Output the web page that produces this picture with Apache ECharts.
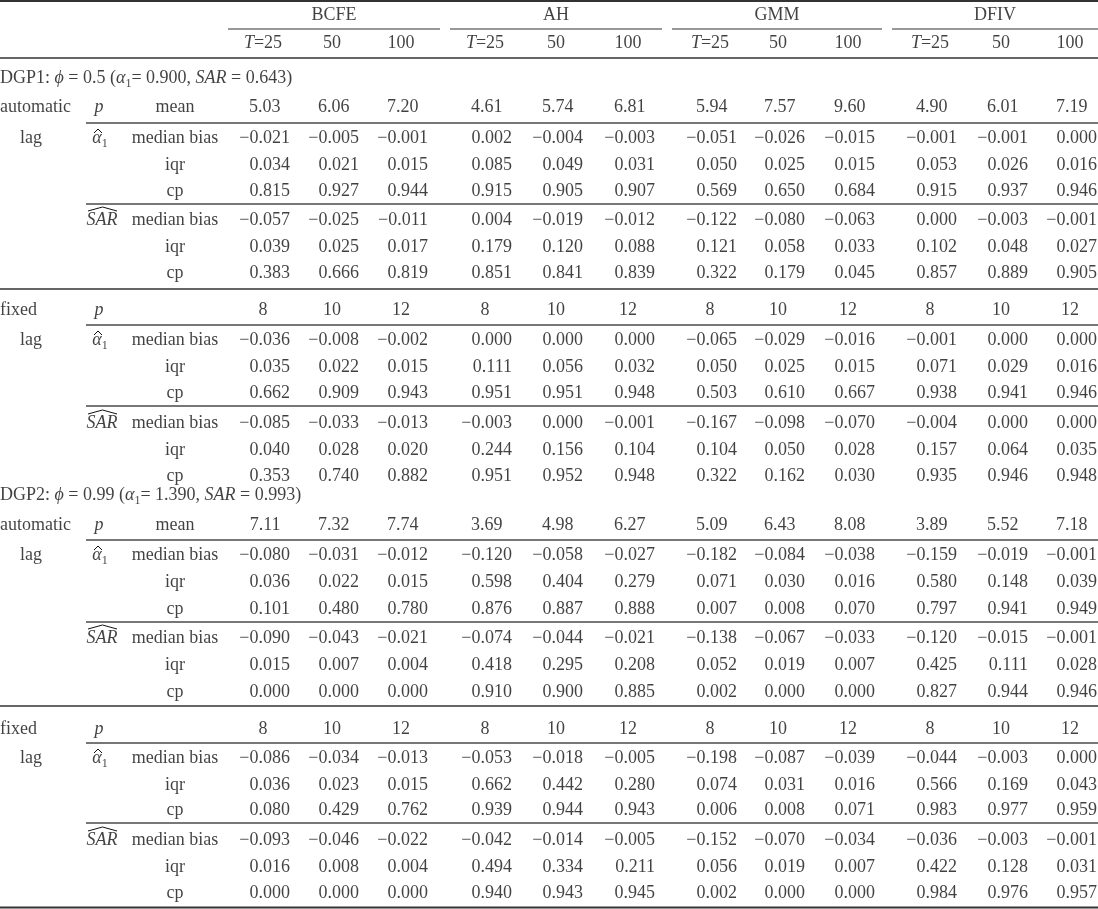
<!DOCTYPE html>
<html style="height:100%;width:100%;">

<head>
  <meta charset="utf-8">
  <title>Table: BCFE / AH / GMM / DFIV</title>
  <script src="https://cdn.jsdelivr.net/npm/echarts@6/dist/echarts.min.js"></script>
</head>

<body style="margin:0px;height:100%;width:100%;background:#fff;">
  <div id="main" style="width:1098px;height:909px"></div>
  <script type="text/javascript" charset="utf-8">
    // header labels
    var methods = ['BCFE', 'AH', 'GMM', 'DFIV'];
    var sampleSizes = ['25', '50', '100'];
    var fixedLags = [8, 10, 12];
    var statNames = ['median bias', 'iqr', 'cp'];

    // DGP1, automatic lag
    var dgp1AutoMean = [5.03, 6.06, 7.20, 4.61, 5.74, 6.81, 5.94, 7.57, 9.60, 4.90, 6.01, 7.19];
    var dgp1AutoAlpha = [
      [-0.021, -0.005, -0.001, 0.002, -0.004, -0.003, -0.051, -0.026, -0.015, -0.001, -0.001, 0.000],
      [0.034, 0.021, 0.015, 0.085, 0.049, 0.031, 0.050, 0.025, 0.015, 0.053, 0.026, 0.016],
      [0.815, 0.927, 0.944, 0.915, 0.905, 0.907, 0.569, 0.650, 0.684, 0.915, 0.937, 0.946]
    ];
    var dgp1AutoSar = [
      [-0.057, -0.025, -0.011, 0.004, -0.019, -0.012, -0.122, -0.080, -0.063, 0.000, -0.003, -0.001],
      [0.039, 0.025, 0.017, 0.179, 0.120, 0.088, 0.121, 0.058, 0.033, 0.102, 0.048, 0.027],
      [0.383, 0.666, 0.819, 0.851, 0.841, 0.839, 0.322, 0.179, 0.045, 0.857, 0.889, 0.905]
    ];
    // DGP1, fixed lag
    var dgp1FixedAlpha = [
      [-0.036, -0.008, -0.002, 0.000, 0.000, 0.000, -0.065, -0.029, -0.016, -0.001, 0.000, 0.000],
      [0.035, 0.022, 0.015, 0.111, 0.056, 0.032, 0.050, 0.025, 0.015, 0.071, 0.029, 0.016],
      [0.662, 0.909, 0.943, 0.951, 0.951, 0.948, 0.503, 0.610, 0.667, 0.938, 0.941, 0.946]
    ];
    var dgp1FixedSar = [
      [-0.085, -0.033, -0.013, -0.003, 0.000, -0.001, -0.167, -0.098, -0.070, -0.004, 0.000, 0.000],
      [0.040, 0.028, 0.020, 0.244, 0.156, 0.104, 0.104, 0.050, 0.028, 0.157, 0.064, 0.035],
      [0.353, 0.740, 0.882, 0.951, 0.952, 0.948, 0.322, 0.162, 0.030, 0.935, 0.946, 0.948]
    ];
    // DGP2, automatic lag
    var dgp2AutoMean = [7.11, 7.32, 7.74, 3.69, 4.98, 6.27, 5.09, 6.43, 8.08, 3.89, 5.52, 7.18];
    var dgp2AutoAlpha = [
      [-0.080, -0.031, -0.012, -0.120, -0.058, -0.027, -0.182, -0.084, -0.038, -0.159, -0.019, -0.001],
      [0.036, 0.022, 0.015, 0.598, 0.404, 0.279, 0.071, 0.030, 0.016, 0.580, 0.148, 0.039],
      [0.101, 0.480, 0.780, 0.876, 0.887, 0.888, 0.007, 0.008, 0.070, 0.797, 0.941, 0.949]
    ];
    var dgp2AutoSar = [
      [-0.090, -0.043, -0.021, -0.074, -0.044, -0.021, -0.138, -0.067, -0.033, -0.120, -0.015, -0.001],
      [0.015, 0.007, 0.004, 0.418, 0.295, 0.208, 0.052, 0.019, 0.007, 0.425, 0.111, 0.028],
      [0.000, 0.000, 0.000, 0.910, 0.900, 0.885, 0.002, 0.000, 0.000, 0.827, 0.944, 0.946]
    ];
    // DGP2, fixed lag
    var dgp2FixedAlpha = [
      [-0.086, -0.034, -0.013, -0.053, -0.018, -0.005, -0.198, -0.087, -0.039, -0.044, -0.003, 0.000],
      [0.036, 0.023, 0.015, 0.662, 0.442, 0.280, 0.074, 0.031, 0.016, 0.566, 0.169, 0.043],
      [0.080, 0.429, 0.762, 0.939, 0.944, 0.943, 0.006, 0.008, 0.071, 0.983, 0.977, 0.959]
    ];
    var dgp2FixedSar = [
      [-0.093, -0.046, -0.022, -0.042, -0.014, -0.005, -0.152, -0.070, -0.034, -0.036, -0.003, -0.001],
      [0.016, 0.008, 0.004, 0.494, 0.334, 0.211, 0.056, 0.019, 0.007, 0.422, 0.128, 0.031],
      [0.000, 0.000, 0.000, 0.940, 0.943, 0.945, 0.002, 0.000, 0.000, 0.984, 0.976, 0.957]
    ];

    // layout (axis units = pixels); numbers are decimal-aligned, so columns are set by their right edge
    var colRight = [290, 359, 428, 512, 583, 655, 737, 805, 875, 957, 1028, 1097];
    var groupLine = [[228, 440], [450, 662], [672, 882], [892, 1098]];
    var FONT = 'Liberation Serif';
    var INK = '#111';

    var cells = [];
    var rules = [];

    function put(x, y, text, align) {
      cells.push({ name: text, value: [x, y], label: { align: align || 'center' } });
    }
    function fmt(v, d) {
      return v.toFixed(d).replace('-', '\u2212');
    }
    function valueRow(y, vals, d) {
      vals.forEach(function (v, i) {
        if (d === 0) put(colRight[i] - 27, y, fmt(v, 0));
        else put(colRight[i] - (3 - d) * 9.5, y, fmt(v, d), 'right');
      });
    }
    function rule(x1, x2, y, w, c) {
      rules.push({ coords: [[x1, y], [x2, y]], lineStyle: { width: w, color: c } });
    }
    function hat(x1, x2, y, h) {
      rules.push({ coords: [[x1, y], [(x1 + x2) / 2, y - h], [x2, y]], lineStyle: { width: 1, color: INK } });
    }

    // header
    methods.forEach(function (m, g) {
      put((groupLine[g][0] + groupLine[g][1]) / 2, 15, m);
      rule(groupLine[g][0], groupLine[g][1], 29, 1.2, '#333');
      sampleSizes.forEach(function (s, k) {
        put(colRight[g * 3 + k] - 27, 43, k === 0 ? '{i|T}=' + s : s);
      });
    });

    function section(kind, yP, firstVals, dec, ya, alpha, ys, sar) {
      put(0, yP, kind, 'left');
      put(99, yP, '{i|p}');
      if (kind === 'automatic') put(175, yP, 'mean');
      valueRow(yP, firstVals, dec);
      rule(86, 1098, ya[0] - 15, 2, '#777');
      put(31, ya[0], 'lag');
      put(100, ya[0], '{i|\u03b1}{s|1}');
      hat(94, 102, ya[0] - 5, 4);
      put(102, ys[0], '{i|SAR}');
      hat(88, 117, ys[0] - 9, 4);
      statNames.forEach(function (s, k) {
        put(175, ya[k], s);
        valueRow(ya[k], alpha[k], 3);
        put(175, ys[k], s);
        valueRow(ys[k], sar[k], 3);
      });
      rule(86, 1098, ya[2] + 13, 2, '#777');
    }

    var fixedRow = [];
    methods.forEach(function () { fixedRow = fixedRow.concat(fixedLags); });

    put(0, 78, 'DGP1: {i|\u03d5} = 0.5 ({i|\u03b1}{s|1}= 0.900, {i|SAR} = 0.643)', 'left');
    section('automatic', 107, dgp1AutoMean, 2, [138, 165, 191], dgp1AutoAlpha, [220, 247, 273], dgp1AutoSar);
    section('fixed', 310, fixedRow, 0, [340, 367, 393], dgp1FixedAlpha, [423, 450, 476], dgp1FixedSar);
    put(0, 495, 'DGP2: {i|\u03d5} = 0.99 ({i|\u03b1}{s|1}= 1.390, {i|SAR} = 0.993)', 'left');
    section('automatic', 525, dgp2AutoMean, 2, [555, 582, 609], dgp2AutoAlpha, [638, 665, 692], dgp2AutoSar);
    section('fixed', 729, fixedRow, 0, [758, 785, 810], dgp2FixedAlpha, [840, 867, 893], dgp2FixedSar);

    // full-width rules
    rule(0, 1098, 1, 2, '#333');
    rule(0, 1098, 58, 1.5, '#333');
    rule(0, 1098, 289, 1.5, '#333');
    rule(0, 1098, 706, 1.5, '#333');
    rule(0, 1098, 907.5, 2, '#333');

    var myChart = echarts.init(document.getElementById('main'));
    var option = {
      animation: false,
      grid: { left: 0, right: 0, top: 0, bottom: 0 },
      xAxis: { type: 'value', min: 0, max: 1098, show: false },
      yAxis: { type: 'value', min: 0, max: 909, inverse: true, show: false },
      series: [
        {
          type: 'lines',
          coordinateSystem: 'cartesian2d',
          polyline: true,
          silent: true,
          lineStyle: { opacity: 1 },
          data: rules
        },
        {
          type: 'scatter',
          silent: true,
          symbolSize: 1,
          itemStyle: { color: 'rgba(0,0,0,0)' },
          label: {
            show: true,
            position: 'inside',
            formatter: function (p) { return p.name; },
            fontFamily: FONT,
            fontSize: 18,
            lineHeight: 24,
            color: INK,
            rich: {
              i: { fontFamily: FONT, fontSize: 18, fontStyle: 'italic', color: INK },
              s: { fontFamily: FONT, fontSize: 12, verticalAlign: 'bottom', color: INK }
            }
          },
          data: cells
        }
      ]
    };
    myChart.setOption(option);
  </script>
</body>

</html>
